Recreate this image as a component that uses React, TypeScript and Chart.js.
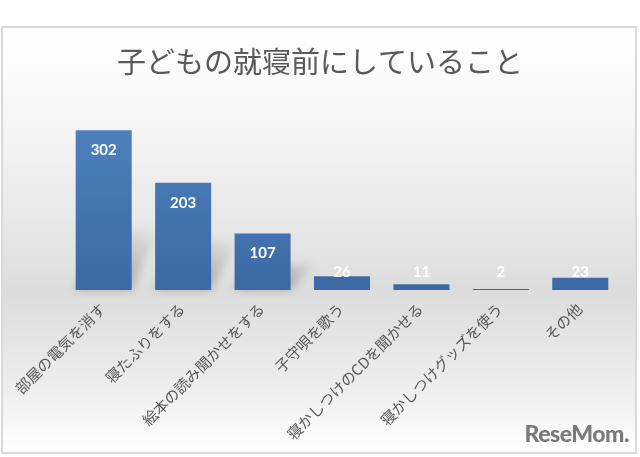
import React, { useEffect, useRef } from "react";
import { Chart, registerables } from "chart.js";

Chart.register(...registerables);

const titleText = "子どもの就寝前にしていること";
const categories = [
  "部屋の電気を消す",
  "寝たふりをする",
  "絵本の読み聞かせをする",
  "子守唄を歌う",
  "寝かしつけのCDを聞かせる",
  "寝かしつけグッズを使う",
  "その他",
];
const values = [302, 203, 107, 26, 11, 2, 23];
const yMax = 350;

const labelPlugin = {
  id: "valueLabels",
  afterDatasetsDraw(chart: any) {
    const ctx = chart.ctx;
    const meta = chart.getDatasetMeta(0);
    const xs = chart.scales.x;
    const base = chart.scales.y.getPixelForValue(0);

    // title, centred on the whole canvas
    ctx.save();
    ctx.fillStyle = "#595959";
    ctx.font = "29px 'Noto Sans CJK JP', sans-serif";
    ctx.textAlign = "center";
    ctx.textBaseline = "middle";
    ctx.fillText(titleText, chart.width / 2 + 1, 34);
    ctx.restore();

    ctx.save();
    ctx.fillStyle = "#ffffff";
    ctx.font = "bold 15px Lato, 'Noto Sans', sans-serif";
    ctx.textAlign = "center";
    ctx.textBaseline = "middle";
    meta.data.forEach((bar: any, i: number) => {
      const y = Math.min(bar.y + 20, base - 18);
      ctx.fillText(String(values[i]), bar.x, y);
    });
    ctx.restore();

    // category labels, rotated
    ctx.save();
    ctx.fillStyle = "#595959";
    ctx.font = "15px 'Noto Sans CJK JP', sans-serif";
    ctx.textAlign = "right";
    ctx.textBaseline = "middle";
    categories.forEach((lab, i) => {
      const px = xs.getPixelForValue(i) - 1;
      const py = base + 16;
      ctx.save();
      ctx.translate(px, py);
      ctx.rotate(-Math.PI / 4);
      ctx.fillText(lab, 0, 0);
      ctx.restore();
    });
    ctx.restore();
  },
};

const shadowPlugin = {
  id: "barShadow",
  beforeDatasetsDraw(chart: any) {
    const ctx = chart.ctx;
    const meta = chart.getDatasetMeta(0);
    ctx.save();
    meta.data.forEach((bar: any) => {
      const h = bar.base - bar.y;
      if (h < 20) return;
      const w = bar.width;
      const x0 = bar.x + w / 2;
      const sh = Math.min(h * 0.45, 60);
      const g = ctx.createLinearGradient(x0, bar.base, x0 + 30, bar.base - sh);
      g.addColorStop(0, "rgba(110,110,110,0.45)");
      g.addColorStop(1, "rgba(110,110,110,0)");
      ctx.fillStyle = g;
      ctx.filter = "blur(4px)";
      ctx.beginPath();
      ctx.moveTo(bar.x - w / 2, bar.base);
      ctx.lineTo(x0, bar.base);
      ctx.lineTo(x0 + 25, bar.base - sh);
      ctx.lineTo(bar.x - w / 2 + 25, bar.base - sh);
      ctx.closePath();
      ctx.fill();
    });
    ctx.restore();
  },
};

export default function App() {
  const ref = useRef<HTMLCanvasElement>(null);
  useEffect(() => {
    document.body.style.margin = "0";
    const canvas = ref.current!;
    const chart = new Chart(canvas, {
      type: "bar",
      data: {
        labels: categories,
        datasets: [
          {
            data: values,
            backgroundColor: (c: any) => {
              const ca = c.chart.chartArea;
              if (!ca) return "#4a7ebb";
              const g = c.chart.ctx.createLinearGradient(0, ca.top, 0, ca.bottom);
              g.addColorStop(0, "#4f84c2");
              g.addColorStop(1, "#3c69a4");
              return g;
            },
            borderWidth: 0,
            barPercentage: 0.8,
            categoryPercentage: 0.882,
          },
        ],
      },
      options: {
        animation: false,
        responsive: false,
        maintainAspectRatio: false,
        layout: { padding: { left: 61, right: 15, top: 77, bottom: 162 } },
        plugins: {
          legend: { display: false },
          tooltip: { enabled: false },
          title: { display: false },
        },
        scales: {
          y: { display: false, min: 0, max: yMax },
          x: { display: false, grid: { display: false } },
        },
      },
      plugins: [shadowPlugin, labelPlugin],
    });
    return () => chart.destroy();
  }, []);

  return (
    <div style={{ position: "absolute", left: 0, top: 0, width: 640, height: 457, background: "#ffffff" }}>
      <div
        style={{
          position: "absolute",
          left: 1,
          top: 26,
          width: 632,
          height: 424,
          border: "2px solid #d9d9d9",
          overflow: "hidden",
          background:
            "linear-gradient(to bottom, #ffffff 0%, #f7f7f7 20%, #e2e2e2 55%, #dcdcdc 62%, #eeeeee 85%, #ffffff 100%)",
        }}
      >
        <canvas ref={ref} width={632} height={424} style={{ display: "block" }} />
        <div
          style={{
            position: "absolute",
            right: 6,
            bottom: 5,
            fontFamily: "Lato, 'Noto Sans', sans-serif",
            fontWeight: 900,
            fontSize: 23,
            color: "#7a7a7a",
            letterSpacing: -0.5,
          }}
        >
          ReseMom.
        </div>
      </div>
    </div>
  );
}
